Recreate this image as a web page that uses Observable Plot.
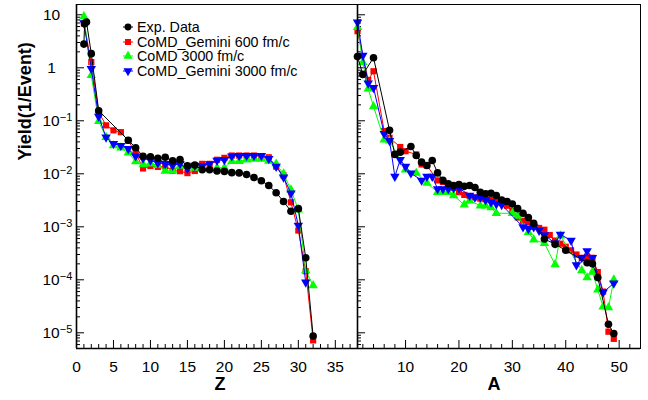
<!DOCTYPE html>
<html><head><meta charset="utf-8">
<script src="https://cdn.jsdelivr.net/npm/d3@7"></script>
<script src="https://cdn.jsdelivr.net/npm/@observablehq/plot@0.6"></script>
<style>
body{margin:0;background:#fff;}
#wrap{position:relative;width:648px;height:400px;font-family:"Liberation Sans",Arial,Helvetica,sans-serif;overflow:hidden;}
#wrap svg{position:absolute;top:0;overflow:visible;}
.leg{position:absolute;font-size:14.3px;line-height:14px;white-space:nowrap;}
</style></head><body><div id="wrap"></div>
<script>
// ---------- shared axis values ----------
const yDomain = [Math.pow(10, -5.296), Math.pow(10, 1.194)];
const majorY = [1e-5, 1e-4, 1e-3, 1e-2, 1e-1, 1, 10];
const yTickLabels = ["10^−5", "10^−4", "10^−3", "10^−2", "10^−1", "1", "10"];
const minorYMult = [2, 3, 4, 5, 6, 7, 8, 9];

// ---------- left panel: Z ----------
const zTicks = [0, 5, 10, 15, 20, 25, 30, 35];
const zMinor = [1,2,3,4,6,7,8,9,11,12,13,14,16,17,18,19,21,22,23,24,26,27,28,29,31,32,33,34,36,37];

const zExp = [1, 1.1, 1.35, 2, 3, 7, 8, 9, 10, 11, 12, 13, 14, 15, 16, 17, 18, 19, 20, 21, 22, 23, 24, 25, 26, 27, 28, 29, 30, 31, 32];
const yExpZ = [2.8, 6.8, 7.3, 1.85, 0.155, 0.043, 0.031, 0.0213, 0.021, 0.0197, 0.0205, 0.0175, 0.0186, 0.0142, 0.0146, 0.0119, 0.0119, 0.0113, 0.0111, 0.0105, 0.0104, 0.0097, 0.0085, 0.0074, 0.006, 0.0044, 0.0030, 0.00197, 0.0022, 0.00026, 0.0000087];

const zGem600 = [1,2,3,4,5,6,7,8,9,10,11,12,13,14,15,16,17,18,19,20,21,22,23,24,25,26,27,28,29,30,31,32];
const yGem600Z = [6.8, 1.28, 0.145, 0.082, 0.066, 0.061, 0.042, 0.025, 0.0126, 0.014, 0.0135, 0.0138, 0.0115, 0.0112, 0.0103, 0.0113, 0.0154, 0.0154, 0.0184, 0.020, 0.0221, 0.0221, 0.0221, 0.0221, 0.0215, 0.0205, 0.0137, 0.0093, 0.0029, 0.00085, 0.000145, 0.0000072];

const zComd3000 = [1,2,3,4,5,6,7,8,9,10,11,12,13,14,15,16,17,18,19,20,21,22,23,24,25,26,27,28,29,30,31,32];
const yComd3000Z = [9.3, 0.72, 0.098, 0.049, 0.034, 0.031, 0.025, 0.017, 0.015, 0.0154, 0.0145, 0.0113, 0.0115, 0.014, 0.0135, 0.0128, 0.0128, 0.0128, 0.013, 0.013, 0.0173, 0.0173, 0.0184, 0.019, 0.019, 0.0175, 0.0154, 0.0100, 0.0050, 0.0021, 0.00015, 0.000078];

const zGem3000 = [1,2,3,4,5,6,7,8,9,10,11,12,13,14,15,16,17,18,19,20,21,22,23,24,25,26,27,28,29,30,31];
const yGem3000Z = [7.0, 0.96, 0.12, 0.049, 0.037, 0.034, 0.0296, 0.0215, 0.0195, 0.018, 0.016, 0.0155, 0.0143, 0.0155, 0.0125, 0.0143, 0.014, 0.0154, 0.0178, 0.0184, 0.0215, 0.022, 0.022, 0.022, 0.022, 0.0192, 0.0137, 0.0086, 0.0043, 0.00106, 0.00009];

// ---------- right panel: A ----------
const aTicks = [10, 20, 30, 40, 50];
const aMinor = [2,4,6,8,12,14,16,18,22,24,26,28,32,34,36,38,42,44,46,48,52,54];

const aExp = [1, 2, 4, 7, 8, 9, 11, 12, 13, 14, 15, 16, 17, 18, 19, 20, 21, 22, 23, 24, 25, 26, 27, 28, 29, 30, 31, 32, 33, 34, 36, 38, 40, 44, 45, 46, 48, 49];
const yExpA = [1.63, 0.75, 1.55, 0.066, 0.0232, 0.0256, 0.0327, 0.0221, 0.0166, 0.0143, 0.0178, 0.0104, 0.0075, 0.0065, 0.006, 0.0063, 0.0058, 0.006, 0.0055, 0.0045, 0.0042, 0.0043, 0.0039, 0.0032, 0.0030, 0.0027, 0.0022, 0.0018, 0.0015, 0.00117, 0.00059, 0.00047, 0.00036, 0.00021, 0.0002, 0.00011, 0.0000145, 0.0000097];

const aGem600 = [1, 3, 4, 6, 7, 9, 10, 12, 13, 14, 16, 17, 18, 19, 20, 21, 22, 23, 24, 25, 26, 27, 28, 29, 30, 31, 32, 33, 34, 35, 36, 37, 38, 39, 40, 41, 42, 43, 44, 45, 46, 47, 48, 49];
const yGem600A = [4.9, 0.59, 0.86, 0.064, 0.048, 0.032, 0.0267, 0.0232, 0.015, 0.0143, 0.0075, 0.007, 0.0063, 0.0054, 0.0045, 0.004, 0.0038, 0.0036, 0.0034, 0.0033, 0.0032, 0.003, 0.0028, 0.0025, 0.002, 0.0015, 0.0013, 0.0012, 0.001, 0.00095, 0.00088, 0.0007, 0.00055, 0.00048, 0.00042, 0.00036, 0.0003, 0.00026, 0.00027, 0.00026, 0.00014, 0.00006, 0.0000105, 0.0000077];

const aComd3000 = [1, 2, 3, 4, 6, 7, 10, 12, 14, 16, 17, 18, 19, 21, 22, 24, 25, 26, 27, 30, 31, 33, 34, 36, 38, 39, 43, 44, 45, 46, 47, 48, 49];
const yComd3000A = [5.8, 1.27, 0.40, 0.186, 0.044, 0.042, 0.0119, 0.0103, 0.0067, 0.0045, 0.0045, 0.0045, 0.0039, 0.0026, 0.0031, 0.0025, 0.0025, 0.0023, 0.0018, 0.0018, 0.0016, 0.00079, 0.00057, 0.00049, 0.000194, 0.00068, 0.00015, 0.00011, 0.00014, 0.000065, 0.000031, 0.00003, 0.0001];

const aGem3000 = [1, 2, 3, 4, 6, 7, 8, 9, 10, 11, 13, 14, 15, 16, 17, 18, 19, 20, 22, 23, 24, 25, 26, 27, 28, 32, 33, 34, 35, 36, 38, 39, 41, 42, 43, 44, 45, 47, 49];
const yGem3000A = [7.2, 1.7, 0.51, 0.42, 0.057, 0.042, 0.0089, 0.0184, 0.0137, 0.0103, 0.0075, 0.0089, 0.0089, 0.0052, 0.0052, 0.0052, 0.0054, 0.0054, 0.0039, 0.0036, 0.0036, 0.0032, 0.0029, 0.0027, 0.0026, 0.00099, 0.00092, 0.00099, 0.00085, 0.0007, 0.00049, 0.00072, 0.00055, 0.00019, 0.00026, 0.00035, 0.00026, 0.000058, 0.000086];

// ---------- series styles ----------
const seriesNames = ["Exp. Data", "CoMD_Gemini 600 fm/c", "CoMD 3000 fm/c", "CoMD_Gemini 3000 fm/c"];
const seriesColors = ["#000000", "#ff0000", "#00ff00", "#0000ff"];
const seriesSymbols = ["circle", "square", "triangle", "triangle"];
const seriesRotate = [0, 0, 0, 180];

function toRows(xs, ys) { return xs.map((x, i) => ({x, y: ys[i]})); }

const zSeries = [toRows(zExp, yExpZ), toRows(zGem600, yGem600Z), toRows(zComd3000, yComd3000Z), toRows(zGem3000, yGem3000Z)];
const aSeries = [toRows(aExp, yExpA), toRows(aGem600, yGem600A), toRows(aComd3000, yComd3000A), toRows(aGem3000, yGem3000A)];

const H = 400, MT = 4, MB = 52;
const minorY = [];
for (let e = -6; e <= 1; e++) for (const m of minorYMult) { const v = m * Math.pow(10, e); if (v > yDomain[0] && v < yDomain[1]) minorY.push(v); }

function panel({xDomain, majorX, minorX, series, width, marginLeft, marginRight, yLabels, title, titleDx}) {
  const pw = width - marginLeft - marginRight;
  const ph = H - MT - MB;
  const xPerPx = (xDomain[1] - xDomain[0]) / pw;
  const decPerPx = (Math.log10(yDomain[1]) - Math.log10(yDomain[0])) / ph;
  const x0 = xDomain[0], y0 = yDomain[0];
  const marks = [];
  // inward ticks (ROOT style)
  marks.push(Plot.ruleY(majorY, {y: d => d, x1: x0, x2: x0 + 8 * xPerPx, stroke: "black", strokeWidth: 1}));
  marks.push(Plot.ruleY(minorY, {y: d => d, x1: x0, x2: x0 + 4 * xPerPx, stroke: "black", strokeWidth: 1}));
  marks.push(Plot.ruleX(majorX.filter(v => v > xDomain[0]), {x: d => d, y1: y0, y2: y0 * Math.pow(10, 8 * decPerPx), stroke: "black", strokeWidth: 1}));
  marks.push(Plot.ruleX(minorX, {x: d => d, y1: y0, y2: y0 * Math.pow(10, 4 * decPerPx), stroke: "black", strokeWidth: 1}));
  // data: draw order red, green, blue, black
  for (const i of [1, 2, 3, 0]) {
    marks.push(Plot.line(series[i], {x: "x", y: "y", stroke: seriesColors[i], strokeWidth: 1}));
    marks.push(Plot.dot(series[i], {x: "x", y: "y", fill: seriesColors[i], stroke: "none",
      symbol: seriesSymbols[i], rotate: seriesRotate[i], r: i === 0 ? 3.8 : 3.5}));
  }
  marks.push(Plot.frame({stroke: "black", strokeWidth: 1}));
  marks.push(Plot.ruleX([x0], {stroke: "black", strokeWidth: 1.6}));
  marks.push(Plot.ruleY([y0], {stroke: "black", strokeWidth: 1.6}));
  // x tick labels
  marks.push(Plot.text(majorX, {x: d => d, y: y0, text: d => String(d), dy: 19, fontSize: 15.5, fill: "black"}));
  if (yLabels) {
    const plain = majorY.map((v, i) => ({v, t: yTickLabels[i]})).filter(d => !d.t.includes("^"));
    const sup = majorY.map((v, i) => ({v, t: yTickLabels[i]})).filter(d => d.t.includes("^"));
    marks.push(Plot.text(plain, {x: x0, y: "v", text: "t", textAnchor: "middle", dx: -25, fontSize: 15.5, fill: "black"}));
    marks.push(Plot.text(sup, {x: x0, y: "v", text: "t", textAnchor: "start", dx: -34, fontSize: 15.5, fill: "black"}));
    marks.push(Plot.text(["Yield(1/Event)"], {frameAnchor: "left", rotate: -90, dx: -51, dy: -16, fontSize: 18, fontWeight: "bold", fill: "black"}));
  }
  marks.push(Plot.text([title], {frameAnchor: "bottom-left", dx: titleDx, dy: 41, fontSize: 18, fontWeight: "bold", fill: "black"}));
  const svg = Plot.plot({
    width, height: H, marginLeft, marginRight, marginTop: MT, marginBottom: MB,
    x: {domain: xDomain, axis: null},
    y: {type: "log", domain: yDomain, axis: null},
    style: {background: "transparent", fontFamily: "'Liberation Sans', Arial, Helvetica, sans-serif", overflow: "visible"},
    marks
  });
  d3.select(svg).selectAll("text").each(function () {
    const t = this.textContent;
    const m = t.match(/^10\^(.+)$/);
    if (m) {
      this.textContent = "";
      d3.select(this).append("tspan").text("10");
      d3.select(this).append("tspan").attr("dy", "-0.45em").attr("font-size", "11px").text(m[1]);
    }
  });
  return svg;
}

const wrap = document.getElementById("wrap");
const left = panel({xDomain: [0, 38], majorX: zTicks, minorX: zMinor, series: zSeries, width: 360, marginLeft: 76, marginRight: 3, yLabels: true, title: "Z", titleDx: 138});
left.style.left = "0px";
wrap.appendChild(left);
const right = panel({xDomain: [1, 54], majorX: aTicks, minorX: aMinor, series: aSeries, width: 301, marginLeft: 10, marginRight: 8, yLabels: false, title: "A", titleDx: 130});
right.style.left = "347px";
wrap.appendChild(right);

// legend
const legendRowY = [27, 41.5, 56, 70.5];
seriesNames.forEach((name, i) => {
  const row = document.createElement("div");
  row.className = "leg";
  row.style.left = "120px";
  row.style.top = (legendRowY[i] - 7) + "px";
  const sym = d3.create("svg").attr("width", 16).attr("height", 14).style("position", "static").style("vertical-align", "top");
  sym.append("line").attr("x1", 3).attr("x2", 13).attr("y1", 7).attr("y2", 7).attr("stroke", seriesColors[i]).attr("stroke-width", 1);
  const symType = {circle: d3.symbolCircle, square: d3.symbolSquare, triangle: d3.symbolTriangle}[seriesSymbols[i]];
  sym.append("path").attr("d", d3.symbol(symType, Math.PI * 3.4 * 3.4)()).attr("fill", seriesColors[i])
    .attr("transform", `translate(8,7) rotate(${seriesRotate[i]})`);
  row.appendChild(sym.node());
  const span = document.createElement("span");
  span.textContent = name;
  span.style.marginLeft = "1px";
  row.appendChild(span);
  wrap.appendChild(row);
});
</script></body></html>
